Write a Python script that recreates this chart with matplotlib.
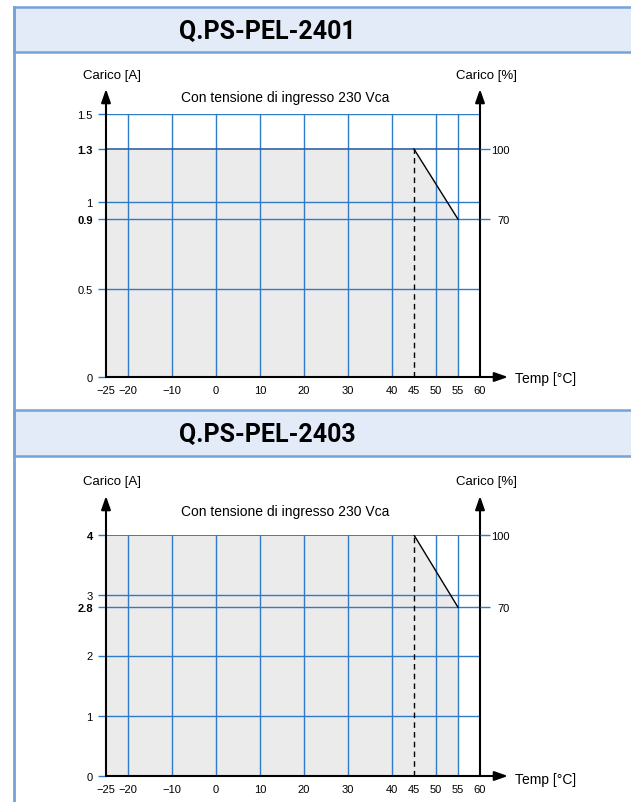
import matplotlib
matplotlib.use("Agg")
import matplotlib.pyplot as plt
from matplotlib.patches import Rectangle
from matplotlib.lines import Line2D

plt.rcParams['font.family'] = ['Liberation Sans', 'DejaVu Sans']

# data
titles = ["Q.PS-PEL-2401", "Q.PS-PEL-2403"]
temp_ticks = [-25, -20, -10, 0, 10, 20, 30, 40, 45, 50, 55, 60]
grid_temps = [-20, -10, 0, 10, 20, 30, 40, 50, 55]
derate_temp = [-25, 45, 55]
load_a1 = [1.3, 1.3, 0.9]
load_a2 = [4, 4, 2.8]
yticks_1 = [0, 0.5, 0.9, 1, 1.3, 1.5]
ylabels_1 = ["0", "0.5", "0.9", "1", "1.3", "1.5"]
yticks_2 = [0, 1, 2, 2.8, 3, 4]
ylabels_2 = ["0", "1", "2", "2.8", "3", "4"]
pct_labels = ["100", "70"]

W, H = 631, 803
BLUE = '#2f7bc8'
DARK = '#2f639c'
BORDER = '#74a2d9'
FILL = '#e3eaf8'


def fx(x):
    return x / W


def fy(y):
    return 1 - y / H


fig = plt.figure(figsize=(W / 100, H / 100), dpi=100)

# title bars and left border
for top, bot, t in [(8, 53, titles[0]), (411, 457, titles[1])]:
    fig.patches.append(Rectangle((fx(14), fy(bot)), fx(640 - 14), (bot - top) / H,
                                 transform=fig.transFigure, fc=FILL, ec=BORDER, lw=1.8))
    fig.text(fx(267), fy((top + bot) / 2 + 1), t, ha='center', va='center',
             fontsize=18, fontweight='bold', family=['Roboto', 'DejaVu Sans'])
fig.lines.append(Line2D([fx(14), fx(14)], [fy(8), 0], transform=fig.transFigure,
                        color=BORDER, lw=2))


def draw_chart(ax_px, load, yticks, ylabels, bold, arrow_top, lab_y, sub_y, temp_y):
    left, top, right, bot = ax_px
    ax = fig.add_axes([fx(left), fy(bot), (right - left) / W, (bot - top) / H])
    ymax = yticks[-1]
    ax.set_xlim(-25, 60)
    ax.set_ylim(0, ymax)
    for s in ax.spines.values():
        s.set_visible(False)

    ax.fill_between(derate_temp, 0, load, color='#ebebeb', lw=0, zorder=0.5)
    ax.vlines(grid_temps, 0, ymax, colors=BLUE, lw=1, zorder=1)
    hy = [v for v in yticks if v != 0 and v != load[0]]
    ax.hlines(hy, -25, 60, colors=BLUE, lw=1, zorder=1)
    ax.hlines(load[0], -25, 60, colors=DARK, lw=1.2, zorder=1.2)
    ax.vlines(45, 0, load[0], colors='black', lw=1, linestyles=(0, (4, 3)), zorder=2)
    ax.plot(derate_temp[1:], load[1:], color='black', lw=1, zorder=3)

    # axes with arrows
    up = 1 + (top - arrow_top) / (bot - top)
    rt = 1 + 28 / (right - left)
    ap = dict(arrowstyle='-|>,head_length=0.8,head_width=0.28', mutation_scale=10,
              color='black', lw=1.5, shrinkA=0, shrinkB=0)
    tr = ax.get_xaxis_transform()
    for xv in (-25, 60):
        ax.annotate('', xy=(xv, up), xycoords=tr, xytext=(xv, 0), textcoords=tr,
                    arrowprops=ap, annotation_clip=False, zorder=4)
    ax.annotate('', xy=(rt, 0), xycoords='axes fraction', xytext=(0, 0),
                textcoords='axes fraction', arrowprops=ap, annotation_clip=False, zorder=4)

    # x ticks
    ax.set_xticks(temp_ticks)
    ax.set_xticklabels([str(v).replace('-', '\u2212') for v in temp_ticks])
    ax.tick_params(axis='x', length=0, pad=6, labelsize=8)
    ax.set_xticks([-25], minor=True)
    ax.tick_params(axis='x', which='minor', length=4, width=1.4, color='black')

    # y ticks
    ax.set_yticks(yticks)
    ax.set_yticklabels(ylabels)
    ax.tick_params(axis='y', length=6, width=1, color=BLUE, pad=3.5, labelsize=8)
    ax.yaxis.get_major_ticks()[0].tick1line.set_visible(False)
    for lab, v in zip(ax.get_yticklabels(), yticks):
        if v in bold:
            lab.set_fontweight('bold')

    ax2 = ax.twinx()
    ax2.set_ylim(0, ymax)
    for s in ax2.spines.values():
        s.set_visible(False)
    ax2.set_yticks([load[0], load[-1]])
    ax2.set_yticklabels(pct_labels)
    ax2.tick_params(axis='y', length=7.5, width=1, color=BLUE, pad=14, labelsize=8)
    for lab in ax2.get_yticklabels():
        lab.set_ha('right')

    fig.text(fx(112), fy(lab_y), "Carico [A]", ha='center', va='center', fontsize=9.5)
    fig.text(fx(486), fy(lab_y), "Carico [%]", ha='center', va='center', fontsize=9.5)
    fig.text(fx(285), fy(sub_y), "Con tensione di ingresso 230 Vca", ha='center',
             va='center', fontsize=10)
    fig.text(fx(515), fy(temp_y), "Temp [\u00b0C]", ha='left', va='center', fontsize=10)


draw_chart((106, 115, 480, 378), load_a1, yticks_1, ylabels_1, [0.9, 1.3],
           90, 76, 98, 379)
draw_chart((106, 536, 480, 777), load_a2, yticks_2, ylabels_2, [2.8, 4],
           497, 482, 512, 780)

fig.savefig("out.png", dpi=100)
